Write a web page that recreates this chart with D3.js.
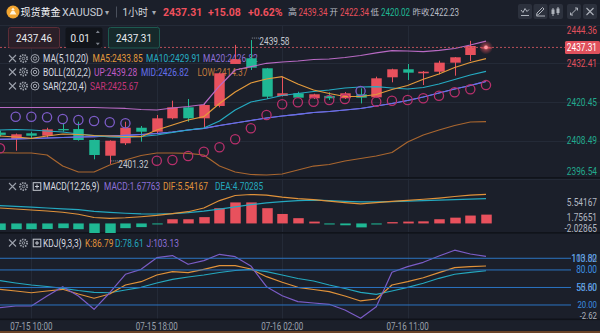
<!DOCTYPE html>
<html>
<head>
<meta charset="utf-8">
<script src="https://cdn.jsdelivr.net/npm/d3@7"></script>
<style>
  html, body { margin: 0; padding: 0; background: #1b1f2a; }
  svg { display: block; font-family: Roboto, "Noto Sans CJK SC", "Noto Sans", sans-serif; }
</style>
</head>
<body>
<svg id="chart" width="600" height="333"></svg>
<script>
// ---------- data: XAUUSD hourly candles and indicators ----------
const times = [
  "07-15 08:00","07-15 09:00","07-15 10:00","07-15 11:00","07-15 12:00","07-15 13:00","07-15 14:00","07-15 15:00","07-15 16:00","07-15 17:00",
  "07-15 18:00","07-15 19:00","07-15 20:00","07-15 21:00","07-15 22:00","07-15 23:00","07-16 00:00","07-16 01:00","07-16 02:00","07-16 03:00",
  "07-16 04:00","07-16 06:00","07-16 07:00","07-16 08:00","07-16 09:00","07-16 10:00","07-16 11:00","07-16 12:00","07-16 13:00","07-16 14:00",
  "07-16 15:00","07-16 16:00"
];
const timeTicks = ["07-15 10:00", "07-15 18:00", "07-16 02:00", "07-16 11:00"];

const opens  = [2411.00,2409.02,2410.78,2410.04,2412.10,2412.10,2408.71,2403.86,2407.69,2412.50,
                2411.27,2415.41,2418.81,2415.41,2419.22,2432.20,2433.95,2430.86,2422.31,2423.14,
                2421.60,2422.34,2421.60,2422.83,2421.90,2428.08,2430.56,2429.32,2429.81,2432.60,
                2434.97,2437.20];
const highs  = [2411.60,2410.70,2411.27,2412.50,2413.96,2414.36,2408.90,2408.60,2414.36,2413.04,
                2416.43,2420.85,2421.38,2419.83,2429.51,2438.10,2439.58,2430.96,2428.27,2423.63,
                2423.00,2423.45,2423.54,2424.68,2428.27,2430.74,2432.19,2430.03,2433.20,2434.35,
                2439.34,2437.46];
const lows   = [2409.80,2405.40,2409.23,2409.40,2411.27,2408.50,2402.75,2401.32,2407.16,2408.20,
                2410.87,2415.10,2414.36,2412.10,2418.81,2432.20,2430.34,2421.38,2422.15,2421.69,
                2421.40,2421.07,2421.38,2420.02,2421.78,2426.54,2427.25,2425.70,2429.01,2428.58,
                2433.12,2437.10];
const closes = [2410.30,2410.47,2410.04,2412.00,2411.70,2408.71,2404.08,2408.49,2412.50,2411.27,
                2415.41,2418.81,2415.41,2419.52,2429.32,2433.65,2431.05,2422.09,2423.14,2421.78,
                2422.83,2421.60,2423.14,2421.78,2427.77,2430.56,2429.51,2429.81,2432.60,2434.26,
                2437.75,2437.31];

const ma5  = [2409.95,2409.64,2409.24,2409.95,2410.56,2410.41,2410.10,2409.95,2409.79,2409.73,
              2411.80,2413.35,2414.89,2415.91,2419.99,2423.54,2426.32,2427.56,2428.27,2426.01,
              2424.16,2423.08,2422.15,2422.15,2422.77,2424.31,2425.55,2427.47,2429.10,2431.11,
              2432.66,2433.85];
const ma10 = [2411.80,2411.95,2411.80,2411.49,2411.18,2410.56,2410.10,2409.64,2409.48,2409.79,
              2410.26,2411.03,2411.80,2412.42,2414.58,2417.98,2420.45,2421.38,2422.46,2423.08,
              2423.70,2424.16,2424.78,2425.09,2425.18,2424.78,2424.47,2424.93,2426.01,2427.41,
              2428.80,2429.91];
// MA20 doubles as the Bollinger middle band
const ma20 = [2408.93,2409.02,2409.17,2409.33,2409.48,2409.64,2409.73,2409.95,2410.16,2410.41,
              2410.72,2411.18,2411.80,2412.32,2413.19,2413.96,2414.73,2415.51,2416.13,2416.65,
              2417.21,2417.52,2417.98,2418.45,2419.22,2419.99,2420.92,2422.00,2423.23,2424.47,
              2425.55,2426.82];
const bollUp  = [2418.75,2418.75,2418.75,2418.75,2418.75,2418.75,2418.75,2418.60,2418.45,2418.14,
                 2417.98,2418.60,2419.06,2419.68,2425.40,2430.34,2431.36,2432.41,2432.81,2433.12,
                 2433.58,2433.74,2434.20,2434.82,2435.60,2436.30,2436.21,2435.99,2436.37,2436.98,
                 2438.07,2439.28];
const bollLow = [2404.78,2404.69,2404.69,2404.07,2400.67,2398.82,2398.82,2400.99,2402.53,2403.92,
                 2404.69,2404.69,2404.60,2404.07,2400.67,2398.82,2398.05,2397.90,2398.20,2399.44,
                 2400.67,2401.14,2402.22,2402.99,2403.77,2404.85,2408.09,2410.25,2411.80,2413.19,
                 2414.27,2414.37];
const sar = [2406.15,2415.91,2415.91,2415.72,2415.20,2414.89,2414.58,2414.18,2413.87,null,
             2402.31,2402.53,2403.77,2405.10,2406.45,2408.96,2412.32,2416.43,2419.77,2420.36,
             2420.54,2421.07,2421.38,2423.85,2420.54,2420.85,2421.07,2421.60,2422.40,2423.45,
             2424.38,2425.67];

const macdHist = [-1.24,-1.10,-1.10,-1.05,-0.90,-1.10,-1.95,-2.02865,-0.90,-0.70,
                  -0.10,0.80,0.80,1.20,2.90,4.00,4.00,2.90,1.80,1.00,
                  0.35,-0.20,-0.35,-0.75,-0.20,0.25,0.35,0.40,0.80,1.10,
                  1.50,1.67763];
const dif = [2.94,2.75,2.56,2.37,2.13,1.75,1.13,0.98,1.08,1.27,
             1.52,1.85,2.23,2.94,4.35,5.31,5.50,5.40,5.02,4.73,
             4.54,4.25,3.96,3.71,3.96,4.21,4.40,4.60,4.83,5.12,
             5.37,5.54167];
const dea = [3.38,3.25,3.10,2.94,2.77,2.62,2.29,2.10,1.94,1.81,
             1.79,1.88,2.04,2.33,2.71,3.15,3.58,3.90,4.15,4.35,
             4.44,4.35,4.21,4.10,4.10,4.15,4.25,4.35,4.45,4.52,
             4.62,4.70285];

const kLine = [46.9,44.0,41.0,44.0,46.9,38.8,31.5,38.8,54.2,59.9,
               71.4,77.0,75.3,81.1,87.3,87.3,81.6,68.5,58.9,50.3,
               46.5,42.8,35.4,26.9,30.3,54.2,59.9,66.7,75.3,83.9,
               85.6,86.79];
const dLine = [61.6,57.7,54.2,51.7,48.6,44.8,41.7,41.0,45.7,50.3,
               57.7,64.0,67.9,71.4,75.6,79.1,81.1,77.0,71.4,65.4,
               61.1,54.2,48.3,41.7,38.3,44.0,50.3,57.2,65.7,72.6,
               76.0,78.61];
const jLine = [15.4,18.3,18.3,35.4,51.3,35.4,12.6,41.0,72.6,81.1,
               101.0,104.6,89.7,95.9,106.8,102.7,86.8,51.3,35.9,25.7,
               23.4,21.2,11.4,-2.62,17.1,76.0,85.6,93.1,103.9,113.82,
               107.3,103.13];

const priceTicks = [2444.36, 2432.41, 2420.45, 2408.49, 2396.54];
const macdTicks  = [5.54167, 1.75651, -2.02865];
const kdjLevels  = [100, 80, 50, 20];
const kdjRange   = [113.82, 55.60, -2.62];

// quote header
const quote = { name: "现货黄金", symbol: "XAUUSD", period: "1小时",
  last: 2437.31, change: 15.08, changePct: 0.62,
  high: 2439.34, open: 2422.34, low: 2420.02, prevClose: 2422.23 };
const orderPrices = [2437.46, 2437.31];
const orderLot = "0.01";

// ---------- palette ----------
const C = {
  bg: "#1b1f2a", grid: "#242a37", sep: "#10131a",
  up: "#e8515d", down: "#1fb894",
  text: "#d8dbe1", muted: "#9ca1ab",
  ma5: "#e39a3c", ma10: "#25abc2", ma20: "#8d70d8",
  bUp: "#b86ac4", bMid: "#6470ec", bLow: "#a9662f",
  sarBelow: "#b8306c", sarAbove: "#7d5cc8",
  dif: "#e0923a", dea: "#24a8bf", macd: "#8d70d8",
  kdjLevel: "#2b74c2", kdjLevelText: "#3c8fe2"
};

// ---------- scales ----------
const n = times.length;
const plotRight = 566;
const x = d3.scaleLinear().domain([0, n - 1]).range([0, 486]);
const bodyW = 10.5;
const pane = { main: [25, 178], macd: [178, 233], kdj: [233, 319.5] };

const yMain = d3.scaleLinear().domain([2396.54, 2444.36]).range([179.4, 24.6]);
const yMacd = d3.scaleLinear().domain([-2.02865, 5.54167]).range([234.1, 194.3]);
const yKdj  = d3.scaleLinear().domain([-2.62, 113.82]).range([318.2, 250.2]);

const svg = d3.select("#chart");
svg.append("rect").attr("width", 600).attr("height", 333).attr("fill", C.bg);

// text helper: a slightly condensed face, like the app's UI font
function label(parent, tx, ty, str, o = {}) {
  const g = parent.append("g").attr("transform", `translate(${tx},${ty}) scale(${o.sx ?? 0.83},1)`);
  g.append("text").attr("dy", "0.35em")
    .attr("font-size", o.size ?? 10)
    .attr("font-weight", o.weight ?? 400)
    .attr("text-anchor", o.anchor ?? "start")
    .attr("fill", o.fill ?? C.text)
    .text(str);
  return g;
}

const defs = svg.append("defs");
Object.entries(pane).forEach(([k, [y0, y1]]) => {
  defs.append("clipPath").attr("id", "clip-" + k)
    .append("rect").attr("x", -10).attr("y", y0).attr("width", plotRight + 10).attr("height", y1 - y0);
});
const glow = defs.append("radialGradient").attr("id", "glow");
glow.append("stop").attr("offset", "0%").attr("stop-color", "#ff7c86").attr("stop-opacity", 0.95);
glow.append("stop").attr("offset", "45%").attr("stop-color", "#e8515d").attr("stop-opacity", 0.45);
glow.append("stop").attr("offset", "100%").attr("stop-color", "#e8515d").attr("stop-opacity", 0);

// ---------- grid ----------
const grid = svg.append("g");
priceTicks.forEach(v => {
  grid.append("line").attr("x1", 0).attr("x2", 600)
    .attr("y1", Math.round(yMain(v)) + 0.5).attr("y2", Math.round(yMain(v)) + 0.5)
    .attr("stroke", C.grid).attr("stroke-width", 1);
});
const tickIdx = timeTicks.map(t => times.indexOf(t));
tickIdx.forEach(i => {
  const xx = Math.round(x(i)) + 0.5;
  grid.append("line").attr("x1", xx).attr("x2", xx).attr("y1", 25).attr("y2", 319)
    .attr("stroke", C.grid).attr("stroke-width", 1);
});

// pane separators and bottom edge
[178, 233, 319.5].forEach(y => {
  svg.append("rect").attr("x", 0).attr("y", y - 1).attr("width", 600).attr("height", 1.6).attr("fill", C.sep);
});
svg.append("rect").attr("x", 0).attr("y", 331).attr("width", 600).attr("height", 2).attr("fill", "#6a4328");

// ---------- small icon helpers ----------
function closeIcon(g, cx, cy) {
  g.append("path").attr("d", `M${cx-3.5},${cy-3.5}L${cx+3.5},${cy+3.5}M${cx+3.5},${cy-3.5}L${cx-3.5},${cy+3.5}`)
    .attr("stroke", C.muted).attr("stroke-width", 1.1).attr("fill", "none");
}
function gearIcon(g, cx, cy) {
  g.append("circle").attr("cx", cx).attr("cy", cy).attr("r", 3.6).attr("fill", "none")
    .attr("stroke", C.muted).attr("stroke-width", 1.8).attr("stroke-dasharray", "1.5 1.0");
  g.append("circle").attr("cx", cx).attr("cy", cy).attr("r", 1.3).attr("fill", "none")
    .attr("stroke", C.muted).attr("stroke-width", 0.9);
}
function eyeIcon(g, cx, cy) {
  g.append("circle").attr("cx", cx).attr("cy", cy).attr("r", 4).attr("fill", "none")
    .attr("stroke", C.muted).attr("stroke-width", 1);
  g.append("circle").attr("cx", cx).attr("cy", cy).attr("r", 1.7).attr("fill", "none")
    .attr("stroke", C.muted).attr("stroke-width", 1);
}
function plusBoxIcon(g, cx, cy) {
  g.append("rect").attr("x", cx - 3.8).attr("y", cy - 3.8).attr("width", 7.6).attr("height", 7.6)
    .attr("fill", "none").attr("stroke", "#c8ccd4").attr("stroke-width", 1);
  g.append("path").attr("d", `M${cx-2},${cy}L${cx+2},${cy}M${cx},${cy-2}L${cx},${cy+2}`)
    .attr("stroke", "#c8ccd4").attr("stroke-width", 1);
}
function legendRow(g, y, icons, parts) {
  closeIcon(g, 12.5, y);
  gearIcon(g, 23.5, y);
  if (icons === "eye") eyeIcon(g, 35, y); else plusBoxIcon(g, 37, y);
  parts.forEach(p => label(g, p[0], y, p[1], { fill: p[2], sx: 0.84 }));
}
const last = a => a[a.length - 1];

// ---------- main pane legends (under the candles) ----------
const legMain = svg.append("g");
legendRow(legMain, 58.5, "eye", [
  [43, "MA(5,10,20)", C.text],
  [92.5, `MA5:${last(ma5).toFixed(2)}`, C.ma5],
  [146, `MA10:${last(ma10).toFixed(2)}`, C.ma10],
  [203, `MA20:${last(ma20).toFixed(2)}`, C.ma20]
]);
legendRow(legMain, 72, "eye", [
  [43, "BOLL(20,2,2)", C.text],
  [94, `UP:${last(bollUp).toFixed(2)}`, "#c15bc6"],
  [141, `MID:${last(ma20).toFixed(2)}`, C.bMid],
  [197.5, `LOW:${last(bollLow).toFixed(2)}`, "#c27a3c"]
]);
legendRow(legMain, 86, "eye", [
  [43, "SAR(2,20,4)", C.text],
  [90, `SAR:${last(sar).toFixed(2)}`, "#c8357a"]
]);

// ---------- candles ----------
const main = svg.append("g").attr("clip-path", "url(#clip-main)");
const candles = main.append("g").selectAll("g").data(d3.range(n)).join("g");
candles.each(function(i) {
  const g = d3.select(this);
  const col = closes[i] >= opens[i] ? C.up : C.down;
  const cx = Math.round(x(i)) + 0.5;
  g.append("line").attr("x1", cx).attr("x2", cx)
    .attr("y1", yMain(highs[i])).attr("y2", yMain(lows[i]))
    .attr("stroke", col).attr("stroke-width", 1);
  const yTop = yMain(Math.max(opens[i], closes[i]));
  const h = Math.max(1, Math.abs(yMain(opens[i]) - yMain(closes[i])));
  g.append("rect").attr("x", cx - bodyW / 2).attr("y", yTop).attr("width", bodyW).attr("height", h).attr("fill", col);
});

// ---------- overlay lines ----------
const lineOf = (arr, y) => d3.line().defined(d => d != null).x((d, i) => x(i)).y(d => y(d))(arr);
function drawLine(g, arr, y, color, w = 1.2) {
  g.append("path").attr("d", lineOf(arr, y)).attr("fill", "none")
    .attr("stroke", color).attr("stroke-width", w).attr("stroke-linejoin", "round");
}
drawLine(main, bollLow, yMain, C.bLow);
drawLine(main, bollUp, yMain, C.bUp);
drawLine(main, ma20, yMain, C.ma20);
drawLine(main, ma20, yMain, C.bMid);
drawLine(main, ma10, yMain, C.ma10);
drawLine(main, ma5, yMain, C.ma5);

// parabolic SAR circles
main.append("g").selectAll("circle")
  .data(d3.range(n).filter(i => sar[i] != null))
  .join("circle")
  .attr("cx", i => x(i)).attr("cy", i => yMain(sar[i])).attr("r", 4.6)
  .attr("fill", "none").attr("stroke-width", 1.3)
  .attr("stroke", i => sar[i] > closes[i] ? C.sarAbove : C.sarBelow);

// high / low markers
const hiIdx = d3.maxIndex(highs), loIdx = d3.minIndex(lows);
function extremeMark(i, v, dyLine) {
  const cx = x(i) + 1, yy = yMain(v);
  main.append("line").attr("x1", cx).attr("x2", cx + 7).attr("y1", yy + dyLine).attr("y2", yy + dyLine)
    .attr("stroke", "#a9aeb8").attr("stroke-width", 0.8).attr("stroke-dasharray", "1 1");
  label(main, cx + 7.5, yy + 1, v.toFixed(2), { fill: "#c3c7cf" });
}
extremeMark(hiIdx, highs[hiIdx], -2);
extremeMark(loIdx, lows[loIdx], -3);

// current price line and glow
const yLast = yMain(quote.last);
svg.append("line").attr("x1", 0).attr("x2", 566).attr("y1", yLast).attr("y2", yLast)
  .attr("stroke", "#b9505a").attr("stroke-width", 1).attr("stroke-dasharray", "2 2");
svg.append("circle").attr("cx", x(n - 1)).attr("cy", yLast).attr("r", 7).attr("fill", "url(#glow)");
svg.append("circle").attr("cx", x(n - 1)).attr("cy", yLast).attr("r", 1.8).attr("fill", "#ff9aa2");

// ---------- main price axis ----------
const axisMain = svg.append("g");
priceTicks.forEach(v => {
  const yy = Math.max(30.5, Math.min(171, yMain(v)));
  label(axisMain, 597, yy, v.toFixed(2),
    { anchor: "end", fill: v >= quote.prevClose ? "#e0505c" : "#22a98d" });
});
axisMain.append("rect").attr("x", 565).attr("y", yLast - 6.5).attr("width", 35).attr("height", 13)
  .attr("rx", 1.5).attr("fill", "#e0515c");
label(axisMain, 597, yLast, quote.last.toFixed(2), { anchor: "end", fill: "#ffffff" });

// ---------- order boxes ----------
const ob = svg.append("g");
ob.append("rect").attr("x", 8.5).attr("y", 27.5).attr("width", 51).attr("height", 20.5).attr("rx", 2)
  .attr("fill", "#2b1f28").attr("stroke", "#5c2d37");
label(ob, 34, 38, orderPrices[0].toFixed(2), { anchor: "middle", size: 11, fill: "#e9ebef", sx: 0.9 });
ob.append("rect").attr("x", 65.5).attr("y", 27.5).attr("width", 37).attr("height", 20.5).attr("rx", 2)
  .attr("fill", "#11141a");
label(ob, 70.5, 38, orderLot, { size: 11, fill: "#e9ebef", sx: 0.9 });
ob.append("path").attr("d", "M95.8,33 L97.8,30.6 L99.8,33 Z M95.8,42.8 L97.8,45.2 L99.8,42.8 Z").attr("fill", "#7d828c");
ob.append("rect").attr("x", 108.5).attr("y", 27.5).attr("width", 51).attr("height", 20.5).attr("rx", 2)
  .attr("fill", "#16292b").attr("stroke", "#1d5a50");
label(ob, 134, 38, orderPrices[1].toFixed(2), { anchor: "middle", size: 11, fill: "#e9ebef", sx: 0.9 });

// ---------- MACD pane ----------
const macdG = svg.append("g").attr("clip-path", "url(#clip-macd)");
macdG.append("g").selectAll("rect").data(d3.range(n)).join("rect")
  .attr("x", i => Math.round(x(i)) + 0.5 - bodyW / 2)
  .attr("width", bodyW)
  .attr("y", i => Math.min(yMacd(0), yMacd(macdHist[i])))
  .attr("height", i => Math.max(1, Math.abs(yMacd(macdHist[i]) - yMacd(0))))
  .attr("fill", i => macdHist[i] >= 0 ? C.up : C.down);
drawLine(macdG, dea, yMacd, C.dea);
drawLine(macdG, dif, yMacd, C.dif);

const legMacd = svg.append("g");
legendRow(legMacd, 186.5, "box", [
  [43, "MACD(12,26,9)", C.text],
  [104, `MACD:${last(macdHist).toFixed(5)}`, C.macd],
  [163, `DIF:${last(dif).toFixed(5)}`, C.dif],
  [215, `DEA:${last(dea).toFixed(5)}`, C.dea]
]);
// range labels sit inside the pane: top one below its line, bottom one above it
const macdOffset = [8, 3, -5.5];
macdTicks.forEach((v, k) => {
  label(svg, 597, yMacd(v) + macdOffset[k], v.toFixed(5), { anchor: "end", fill: "#b3b8c2" });
});

// ---------- KDJ pane ----------
const kdjG = svg.append("g").attr("clip-path", "url(#clip-kdj)");
kdjLevels.forEach(v => {
  svg.append("line").attr("x1", 0).attr("x2", 571).attr("y1", yKdj(v)).attr("y2", yKdj(v))
    .attr("stroke", C.kdjLevel).attr("stroke-width", 1);
});
drawLine(kdjG, dLine, yKdj, C.dea);
drawLine(kdjG, kLine, yKdj, C.dif);
drawLine(kdjG, jLine, yKdj, "#7b5cc6");

const legKdj = svg.append("g");
legendRow(legKdj, 243, "box", [
  [43, "KDJ(9,3,3)", C.text],
  [85, `K:${last(kLine).toFixed(2)}`, C.dif],
  [115, `D:${last(dLine).toFixed(2)}`, C.dea],
  [146.5, `J:${last(jLine).toFixed(2)}`, C.macd]
]);
const kdjOffset = [8, 3, -2.4];
kdjRange.forEach((v, k) => {
  label(svg, 597, yKdj(v) + kdjOffset[k], v.toFixed(2),
    { anchor: "end", fill: "#aeb3bd", size: k === 2 ? 9.4 : 10 });
});
kdjLevels.forEach(v => {
  label(svg, 597, yKdj(v), v.toFixed(2), { anchor: "end", fill: C.kdjLevelText, size: v === 20 ? 9.4 : 10 });
});

// ---------- time axis ----------
tickIdx.forEach((i, k) => {
  label(svg, x(i), 326.5, timeTicks[k], { anchor: "middle", fill: "#9aa0aa", sx: 0.8 });
});

// ---------- header ----------
const hd = svg.append("g");
hd.append("circle").attr("cx", 13).attr("cy", 12).attr("r", 6.5).attr("fill", "#f2a530");
hd.append("path").attr("d", "M9.5,14.5 L12,10.5 L14,10.5 L16.5,14.5 Z M11.2,10 L13,7.5 L14.8,10 Z")
  .attr("fill", "#fff4dc");
const hText = (xx, s, fill, size, weight = 400, sx = 1) =>
  label(hd, xx, 12, s, { fill, size, weight, sx });
hText(20.5, quote.name, "#f1f3f6", 10);
hText(62, quote.symbol, "#c9cdd5", 11, 400, 0.98);
hText(104.5, "▾", "#a5aab3", 8);
hd.append("line").attr("x1", 116.5).attr("x2", 116.5).attr("y1", 6.5).attr("y2", 17.5).attr("stroke", "#4a505c");
hText(122.5, quote.period, "#d3d6dc", 10);
hText(151.5, "▾", "#a5aab3", 8);
hText(163, quote.last.toFixed(2), "#f0505d", 10.5, 700);
hText(208, "+" + quote.change.toFixed(2), "#f0505d", 10.5, 700);
hText(248, "+" + quote.changePct.toFixed(2) + "%", "#f0505d", 10.5, 700);
hText(288, "高", "#b9bdc6", 9);
hText(298.5, quote.high.toFixed(2), "#e8505c", 10, 400, 0.8);
hText(329.5, "开", "#b9bdc6", 8.5);
hText(340, quote.open.toFixed(2), "#e8505c", 10, 400, 0.8);
hText(370.5, "低", "#b9bdc6", 8.5);
hText(381, quote.low.toFixed(2), "#1fb894", 10, 400, 0.8);
hText(412.5, "昨收", "#b9bdc6", 8.5);
hText(430, quote.prevClose.toFixed(2), "#b9bdc6", 10, 400, 0.8);

// toolbar buttons
const btnX = [518, 533.5, 549, 567, 583];
btnX.forEach(bx => {
  hd.append("rect").attr("x", bx).attr("y", 4).attr("width", 14).attr("height", 15).attr("rx", 2).attr("fill", "#2c313d");
});
const ic = "#aeb3bc";
hd.append("path").attr("d", "M521,10 L523,12.5 L525,8.5 L527,11.5 L529,9.5 M521,15.5 L529,15.5")
  .attr("stroke", ic).attr("fill", "none").attr("stroke-width", 1);
hd.append("path").attr("d", "M536.5,15.5 L537,13 L542.5,7.5 L544,9 L538.5,14.5 Z M536.5,16 L545,16")
  .attr("stroke", ic).attr("fill", "none").attr("stroke-width", 1);
hd.append("path").attr("d", "M553,8 L553,16 M558,7 L558,15").attr("stroke", ic).attr("stroke-width", 1);
hd.append("rect").attr("x", 551.5).attr("y", 9.5).attr("width", 3).attr("height", 4.5).attr("fill", ic);
hd.append("rect").attr("x", 556.5).attr("y", 8.5).attr("width", 3).attr("height", 4.5).attr("fill", ic);
hd.append("path").attr("d", "M570.5,15 L577.5,8 M570.5,15 L570.5,12.5 M570.5,15 L573,15 M577.5,8 L575,8 M577.5,8 L577.5,10.5")
  .attr("stroke", ic).attr("fill", "none").attr("stroke-width", 1);
hd.append("path").attr("d", "M586.5,8 L593.5,15 M593.5,8 L586.5,15")
  .attr("stroke", ic).attr("fill", "none").attr("stroke-width", 1.1);
</script>
</body>
</html>
